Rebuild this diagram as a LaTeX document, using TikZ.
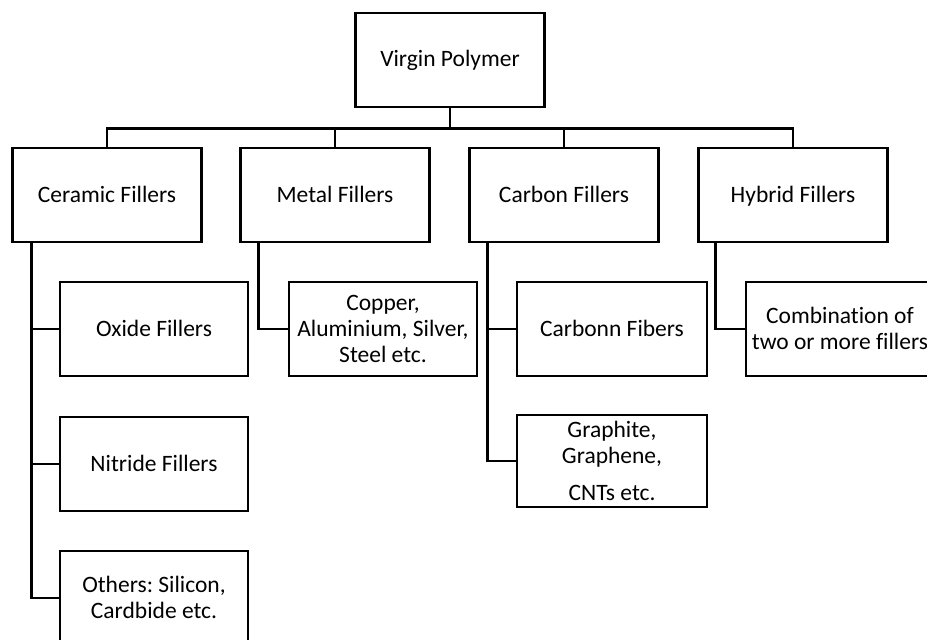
\documentclass[tikz,border=0pt]{standalone}
\usepackage{fontspec}
\setmainfont{Carlito}[Ligatures={NoCommon}]
\frenchspacing
\newcommand\mys{\rule[-3pt]{0pt}{21pt}}
\begin{document}
\begin{tikzpicture}[x=1pt,y=-1pt,
  box/.style={draw=black,line width=2.9pt,rectangle,minimum width=189pt,minimum height=94pt,inner sep=0pt,align=center,font=\fontsize{23.5}{26}\selectfont},
  conn/.style={draw=black,line width=2.9pt}]
\useasboundingbox (0,0) rectangle (927,640);
\clip (0,0) rectangle (927,640);
\node[box] (vp) at (450,60) {\mys Virgin Polymer};
\node[box] (cer) at (107,195) {\mys Ceramic Fillers};
\node[box] (met) at (335,195) {\mys Metal Fillers};
\node[box] (car) at (564,195) {\mys Carbon Fillers};
\node[box] (hyb) at (793,195) {\mys Hybrid Fillers};
\node[box,minimum width=188pt] (oxi) at (154,329) {\mys Oxide Fillers};
\node[box,minimum width=188pt] (nit) at (154,464) {\mys Nitride Fillers};
\node[box,minimum width=188pt] (oth) at (154,598) {\mys Others: Silicon,\\\mys Cardbide etc.};
\node[box,minimum width=188pt] (cop) at (383,329) {\mys Copper,\\Aluminium, Silver,\\\mys Steel etc.};
\node[box,minimum width=190pt] (cfb) at (612,329) {\mys Carbonn Fibers};
\node[box,minimum width=190pt,minimum height=92pt] (gra) at (612,461) {\mys Graphite,\\Graphene,\\[11pt]\mys CNTs etc.};
\node[box,minimum width=188pt] (com) at (840,329) {\mys Combination of\\\mys two or more fillers};
\path (vp.south) ++(0,20) coordinate (bus);
\draw[conn] (vp.south) -- (bus);
\draw[conn] (cer.north) |- (bus) -| (hyb.north);
\draw[conn] (met.north) |- (bus);
\draw[conn] (car.north) |- (bus);
\coordinate (cerd) at ([xshift=20pt]cer.south west);
\coordinate (metd) at ([xshift=19pt]met.south west);
\coordinate (card) at ([xshift=19pt]car.south west);
\coordinate (hybd) at ([xshift=18pt]hyb.south west);
\draw[conn] (cerd) |- (oth.west);
\draw[conn] (cerd |- oxi.west) -- (oxi.west);
\draw[conn] (cerd |- nit.west) -- (nit.west);
\draw[conn] (metd) |- (cop.west);
\draw[conn] (card) |- (gra.west);
\draw[conn] (card |- cfb.west) -- (cfb.west);
\draw[conn] (hybd) |- (com.west);
\end{tikzpicture}
\end{document}
